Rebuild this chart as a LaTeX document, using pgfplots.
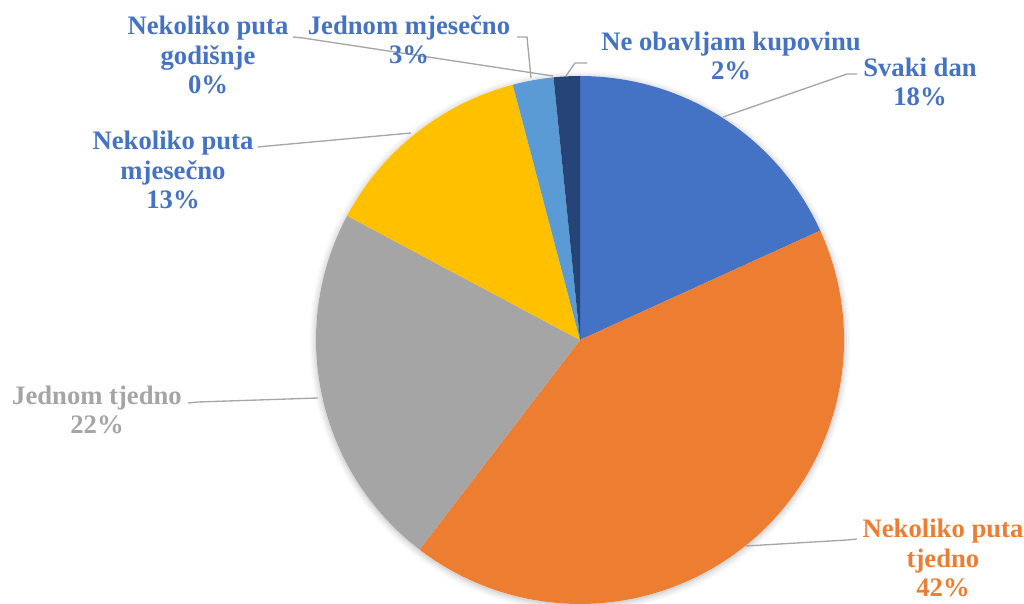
\documentclass[border=0pt]{standalone}
\usepackage{pgfplots}
\pgfplotsset{compat=1.18}
\usepackage{pgfplotstable}
\usepackage{fontspec}
\setmainfont{Liberation Serif}
\usetikzlibrary{shadows.blur}

\definecolor{c0}{HTML}{4472C4}
\definecolor{c1}{HTML}{ED7D31}
\definecolor{c2}{HTML}{A5A5A5}
\definecolor{c3}{HTML}{FFC000}
\definecolor{c4}{HTML}{5B9BD5}
\definecolor{c5}{HTML}{70AD47}
\definecolor{c6}{HTML}{264478}
\definecolor{lead}{HTML}{A6A6A6}

\tikzset{lbl/.style={font=\fontsize{20}{22}\selectfont\bfseries, align=center, inner sep=0pt}}

% shares in %, clockwise from 12 o'clock
\pgfplotstableread{
share
18.2
42.2
22.4
13.1
2.5
0.0
1.6
}\shares

\begin{document}
\begin{tikzpicture}
\begin{axis}[
    x=0.75pt, y=0.75pt,
    xmin=0, xmax=1024, ymin=0, ymax=603,
    hide axis, clip=false,
]
\coordinate (bl) at (axis cs:0,0);
\coordinate (tr) at (axis cs:1024,603);

% soft shadow under the pie
\fill[white, blur shadow={shadow blur radius=5pt, shadow xshift=0pt,
    shadow yshift=-1pt, shadow opacity=30}]
    (axis cs:580,263) circle[radius=198pt];

\def\startang{90}
\pgfplotsforeachungrouped \i in {0,...,6}{%
  \pgfplotstablegetelem{\i}{share}\of\shares
  \pgfmathsetmacro\endang{\startang-3.6*\pgfplotsretval}
  \edef\wedgecmd{\noexpand\fill[c\i] (axis cs:580,263) --
    ([shift={(\startang:198pt)}]axis cs:580,263)
    arc[start angle=\startang, end angle=\endang, radius=198pt] -- cycle;}
  \wedgecmd
  \global\let\startang\endang
}

% leader lines
\draw[lead, line width=1pt] (axis cs:723,486) -- (axis cs:847,529) -- (axis cs:857,529);
\draw[lead, line width=1pt] (axis cs:566,527) -- (axis cs:575,540) -- (axis cs:587,540);
\draw[lead, line width=1pt] (axis cs:531,525) -- (axis cs:527,566) -- (axis cs:517,566);
\draw[lead, line width=1pt] (axis cs:553,527) -- (axis cs:303,565) -- (axis cs:293,566);
\draw[lead, line width=1pt] (axis cs:411,470) -- (axis cs:268,457) -- (axis cs:258,456);
\draw[lead, line width=1pt] (axis cs:318,205) -- (axis cs:198,201) -- (axis cs:188,200);
\draw[lead, line width=1pt] (axis cs:746,57) -- (axis cs:847,63) -- (axis cs:857,64);

% data labels
\node[lbl, text=c0] at (axis cs:920,521) {Svaki dan\\18\%};
\node[lbl, text=c0] at (axis cs:731,547) {Ne obavljam kupovinu\\2\%};
\node[lbl, text=c0] at (axis cs:409,563) {Jednom mjesečno\\3\%};
\node[lbl, text=c0] at (axis cs:208,548) {Nekoliko puta\\godišnje\\0\%};
\node[lbl, text=c0] at (axis cs:173,433) {Nekoliko puta\\mjesečno\\13\%};
\node[lbl, text=c2] at (axis cs:97,193) {Jednom tjedno\\22\%};
\node[lbl, text=c1] at (axis cs:943,45) {Nekoliko puta\\tjedno\\42\%};
\end{axis}
\pgfresetboundingbox
\useasboundingbox (bl) rectangle (tr);
\end{tikzpicture}
\end{document}
